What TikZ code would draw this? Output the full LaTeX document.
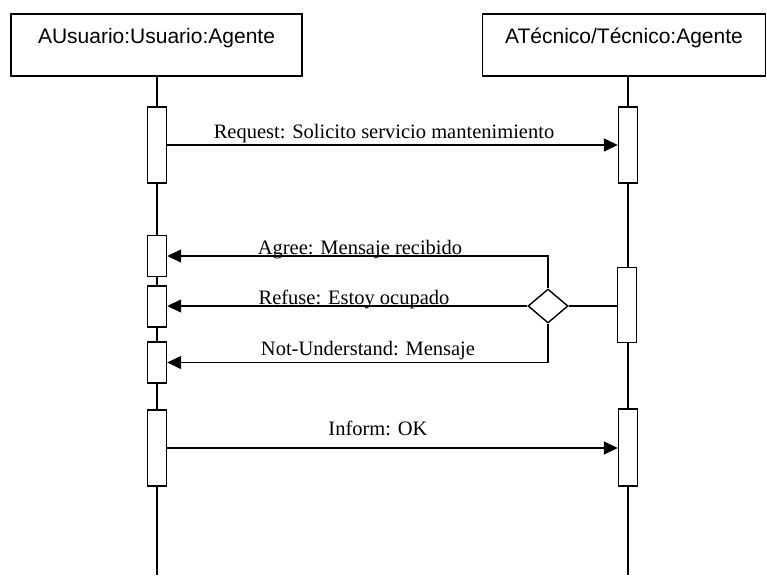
\documentclass[tikz,border=0pt]{standalone}
\usepackage{fontspec}
\setmainfont{Liberation Serif}
\newfontfamily\hdrfont{Liberation Sans}
\usetikzlibrary{shapes.geometric,arrows.meta}
\begin{document}
\begin{tikzpicture}[x=1pt,y=-1pt,
  line width=1.4pt,
  hdr/.style={draw,rectangle,inner sep=0pt,font=\hdrfont\fontsize{21}{24}\selectfont,
    text height=24pt,text depth=26pt,inner ysep=6pt},
  act/.style={draw,rectangle,fill=white,minimum width=19pt,inner sep=0pt},
  msg/.style={-{Triangle[length=14pt,width=13pt]}},
  lbl/.style={anchor=base,inner sep=0pt,font=\fontsize{20.5}{24}\selectfont}]
\useasboundingbox (0,0) rectangle (767,575);
% headers
\node[hdr,minimum width=291pt] (ua) at (156.5,45) {AUsuario:Usuario:Agente};
\node[hdr,minimum width=283pt] (ta) at (624,45) {ATécnico/Técnico:Agente};
\coordinate (ubot) at (157,575);
\coordinate (tbot) at (628,575);
\draw (ua.south -| ubot) -- (ubot);
\draw (ta.south -| tbot) -- (tbot);
% activations left
\node[act,minimum height=76pt] (a1) at (157,145) {};
\node[act,minimum height=41pt] (a2) at (157,256) {};
\node[act,minimum height=41pt] (a3) at (157,306.5) {};
\node[act,minimum height=41pt] (a4) at (157,362.5) {};
\node[act,minimum height=76pt] (a5) at (157,448) {};
% activations right
\node[act,minimum height=76pt] (b1) at (628,145) {};
\node[act,minimum height=75pt] (b2) at (627,305) {};
\node[act,minimum height=77pt] (b3) at (628,447.5) {};
% choice diamond
\node[draw,diamond,fill=white,minimum width=40pt,minimum height=34pt,inner sep=0pt] (d) at (548,306) {};
% messages
\draw[msg] (a1.east) -- (b1.west);
\draw (d.east) -- (d.east -| b2.west);
\draw[msg] (d.north) |- (a2.east);
\draw[msg] (d.west) -- (d.west -| a3.east);
\draw[msg] (d.south) |- (a4.east);
\draw[msg] (a5.east) -- (a5.east -| b3.west);
% labels
\node[lbl] (l1) at (384,138) {Request: Solicito servicio mantenimiento};
\node[lbl] (l2) at (360,254) {Agree: Mensaje recibido};
\node[lbl] (l3) at (354,304) {Refuse: Estoy ocupado};
\node[lbl] (l4) at (368,355) {Not-Understand: Mensaje};
\node[lbl] (l5) at (378,435) {Inform: OK};
\end{tikzpicture}
\end{document}
